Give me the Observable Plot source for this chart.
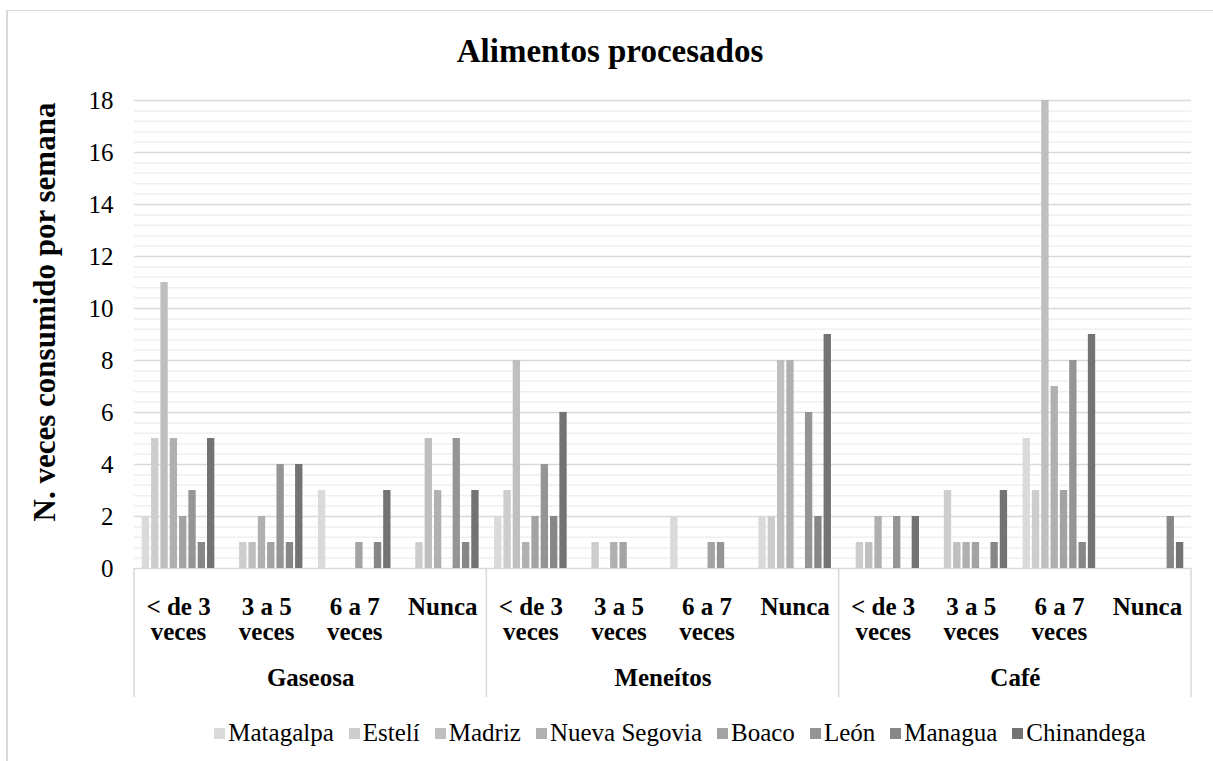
<!DOCTYPE html>
<html>
<head>
<meta charset="utf-8">
<script src="https://cdn.jsdelivr.net/npm/d3@7"></script>
<script src="https://cdn.jsdelivr.net/npm/@observablehq/plot@0.6"></script>
<style>
  body { margin: 0; background: #fff; font-family: "Liberation Serif", "Times New Roman", serif; color: #000; }
  #wrap { position: relative; width: 1213px; height: 761px; overflow: hidden; background: #fff; }
  #frame { position: absolute; left: 6px; top: 10px; width: 1300px; height: 800px; border-left: 2px solid #d9d9d9; border-top: 1px solid #d9d9d9; }
  #chart { position: absolute; left: 0; top: 0; }
  #title { position: absolute; left: 0; top: 33px; width: 1220px; text-align: center; font-weight: bold; font-size: 33px; line-height: 36px; }
  #ylabel { position: absolute; left: 45px; top: 312px; transform: translate(-50%, -50%) rotate(-90deg); white-space: nowrap; font-weight: bold; font-size: 31px; line-height: 34px; }
  #legend { position: absolute; left: 0; top: 718px; width: 1360px; display: flex; justify-content: center; align-items: center; font-size: 25px; line-height: 30px; }
  .item { display: flex; align-items: center; margin: 0 7.5px; }
  .sw { width: 11px; height: 11px; margin-right: 3px; display: inline-block; }
</style>
</head>
<body>
<div id="wrap">
  <div id="frame"></div>
  <div id="chart"></div>
  <div id="title">Alimentos procesados</div>
  <div id="ylabel">N. veces consumido por semana</div>
  <div id="legend"></div>
</div>
<script>
// ---- Data ----
const foods = ["Gaseosa", "Meneítos", "Café"];
const freqs = ["< de 3 veces", "3 a 5 veces", "6 a 7 veces", "Nunca"];
const freqLabels = ["< de 3\nveces", "3 a 5\nveces", "6 a 7\nveces", "Nunca"];
const regions = ["Matagalpa", "Estelí", "Madriz", "Nueva Segovia", "Boaco", "León", "Managua", "Chinandega"];
const regionColors = ["#dadada", "#cdcdcd", "#bfbfbf", "#b0b0b0", "#a3a3a3", "#959595", "#878787", "#737373"];

// values[freq][region]
const gaseosa = [
  [2, 5, 11, 5, 2, 3, 1, 5],
  [0, 1, 1, 2, 1, 4, 1, 4],
  [3, 0, 0, 0, 1, 0, 1, 3],
  [0, 1, 5, 3, 0, 5, 1, 3]
];
const meneitos = [
  [2, 3, 8, 1, 2, 4, 2, 6],
  [0, 1, 0, 1, 1, 0, 0, 0],
  [2, 0, 0, 0, 1, 1, 0, 0],
  [2, 2, 8, 8, 0, 6, 2, 9]
];
const cafe = [
  [0, 1, 1, 2, 0, 2, 0, 2],
  [0, 3, 1, 1, 1, 0, 1, 3],
  [5, 3, 18, 7, 3, 8, 1, 9],
  [0, 0, 0, 0, 0, 0, 2, 1]
];
const yTicks = [0, 2, 4, 6, 8, 10, 12, 14, 16, 18];

// ---- Build table ----
const seriesByFood = [gaseosa, meneitos, cafe];
const data = [];
foods.forEach((f, fi) => freqs.forEach((q, qi) => regions.forEach((r, ri) => {
  data.push({food: f, freq: q, key: f + "|" + q, region: r, value: seriesByFood[fi][qi][ri]});
})));
const keys = foods.flatMap(f => freqs.map(q => f + "|" + q));
const minorTicks = d3.range(0, 18.001, 0.4).filter(v => Math.abs(v / 2 - Math.round(v / 2)) > 1e-6);

const chart = Plot.plot({
  width: 1213,
  height: 700,
  marginTop: 100,
  marginLeft: 134,
  marginRight: 22,
  marginBottom: 132,
  style: {fontFamily: "Liberation Serif, Times New Roman, serif", fontSize: "25px", color: "#000", background: "transparent", overflow: "visible"},
  facet: {data, x: "key"},
  fx: {domain: keys, padding: 0, axis: null, round: false, label: null},
  x: {domain: regions, paddingInner: 0.214, paddingOuter: 0.83, axis: null, round: false},
  y: {domain: [0, 18], ticks: yTicks, tickSize: 0, tickPadding: 21, label: null},
  color: {domain: regions, range: regionColors},
  marks: [
    Plot.ruleY(minorTicks, {stroke: "#efefef", strokeWidth: 1.5}),
    Plot.ruleY(yTicks, {stroke: "#d9d9d9", strokeWidth: 1.5}),
    Plot.barY(data, {x: "region", y: "value", fill: "region"}),
    Plot.text(data, {
      filter: d => d.region === regions[0],
      text: d => freqLabels[freqs.indexOf(d.freq)],
      frameAnchor: "bottom", lineAnchor: "top", dy: 29,
      fontWeight: "bold", fontSize: 25, lineHeight: 1.0, fill: "#000"
    }),
    Plot.text(data, {
      filter: d => d.region === regions[0] && d.freq === freqs[2],
      text: "food",
      frameAnchor: "bottom-left", textAnchor: "middle", lineAnchor: "middle", dy: 109,
      fontWeight: "bold", fontSize: 25, fill: "#000"
    })
  ]
});

// group separators on the category axis, placed with the plot's own scales
const fx = chart.scale("fx");
const ys = chart.scale("y");
const step = (fx.range[1] - fx.range[0]) / keys.length;
const fxPos = k => (fx.apply ? fx.apply(k) : fx.range[0] + keys.indexOf(k) * step);
const bw = fx.bandwidth != null ? fx.bandwidth : step;
const y0 = ys.apply ? ys.apply(0) : ys.range[0];
const bounds = [fxPos(keys[0]), fxPos(keys[4]), fxPos(keys[8]), fxPos(keys[11]) + bw];
const g = d3.select(chart).append("g").attr("stroke", "#d9d9d9").attr("stroke-width", 1.5);
bounds.forEach(b => g.append("line").attr("x1", b).attr("x2", b).attr("y1", y0).attr("y2", y0 + 129));

document.getElementById("chart").appendChild(chart);

// legend
const leg = document.getElementById("legend");
regions.forEach((r, i) => {
  const it = document.createElement("div");
  it.className = "item";
  const sw = document.createElement("span");
  sw.className = "sw";
  sw.style.background = regionColors[i];
  it.appendChild(sw);
  it.appendChild(document.createTextNode(r));
  leg.appendChild(it);
});
</script>
</body>
</html>
